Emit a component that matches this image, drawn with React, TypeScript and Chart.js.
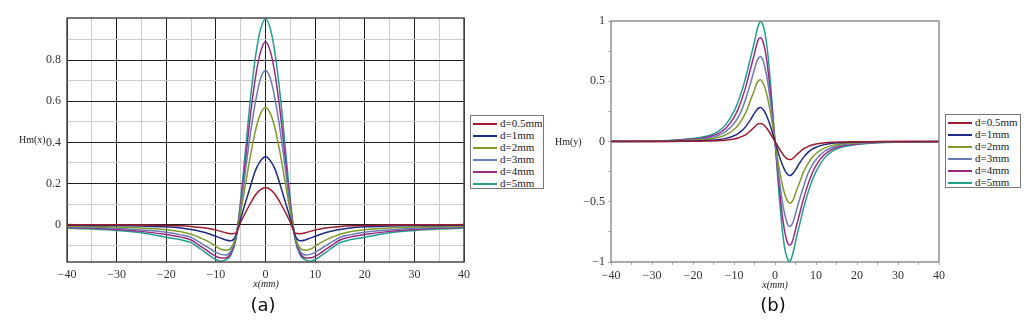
import React, { useEffect, useRef } from "react";
import { Chart, registerables } from "chart.js";

Chart.register(...registerables);

// ---------- data ----------
const seriesLabels = ["d=0.5mm", "d=1mm", "d=2mm", "d=3mm", "d=4mm", "d=5mm"];
const seriesColors = ["#9b1b30", "#1f2b85", "#7f9c2a", "#6b7bb4", "#9a2a88", "#22a08c"];

// (a) Hm(x)
const xA = [-40, -35, -30, -25, -20, -17, -15, -13, -12, -11, -10, -9, -8, -7, -6, -5, -4, -3, -2, -1, 0,
  1, 2, 3, 4, 5, 6, 7, 8, 9, 10, 11, 12, 13, 15, 17, 20, 25, 30, 35, 40];
const hxD05 = [0, -0.001, -0.001, -0.002, -0.004, -0.006, -0.009, -0.014, -0.017, -0.021, -0.026, -0.033, -0.04, -0.044, -0.042, 0.012, 0.06, 0.105, 0.145, 0.17, 0.18,
  0.17, 0.145, 0.105, 0.06, 0.012, -0.042, -0.044, -0.04, -0.033, -0.026, -0.021, -0.017, -0.014, -0.009, -0.006, -0.004, -0.002, -0.001, -0.001, 0];
const hxD1 = [-0.003, -0.004, -0.005, -0.007, -0.011, -0.017, -0.024, -0.034, -0.04, -0.048, -0.057, -0.066, -0.075, -0.079, -0.055, 0.03, 0.11, 0.19, 0.265, 0.31, 0.33,
  0.31, 0.265, 0.19, 0.11, 0.03, -0.055, -0.079, -0.075, -0.066, -0.057, -0.048, -0.04, -0.034, -0.024, -0.017, -0.011, -0.007, -0.005, -0.004, -0.003];
const hxD2 = [-0.008, -0.009, -0.012, -0.016, -0.025, -0.035, -0.047, -0.066, -0.077, -0.09, -0.105, -0.12, -0.125, -0.115, -0.06, 0.06, 0.2, 0.34, 0.46, 0.54, 0.57,
  0.54, 0.46, 0.34, 0.2, 0.06, -0.06, -0.115, -0.125, -0.12, -0.105, -0.09, -0.077, -0.066, -0.047, -0.035, -0.025, -0.016, -0.012, -0.009, -0.008];
const hxD3 = [-0.011, -0.014, -0.018, -0.026, -0.037, -0.05, -0.062, -0.09, -0.105, -0.12, -0.135, -0.145, -0.148, -0.13, -0.065, 0.08, 0.27, 0.45, 0.6, 0.71, 0.75,
  0.71, 0.6, 0.45, 0.27, 0.08, -0.065, -0.13, -0.148, -0.145, -0.135, -0.12, -0.105, -0.09, -0.062, -0.05, -0.037, -0.026, -0.018, -0.014, -0.011];
const hxD4 = [-0.014, -0.018, -0.024, -0.033, -0.048, -0.061, -0.075, -0.107, -0.123, -0.14, -0.154, -0.163, -0.162, -0.14, -0.07, 0.1, 0.32, 0.54, 0.72, 0.84, 0.89,
  0.84, 0.72, 0.54, 0.32, 0.1, -0.07, -0.14, -0.162, -0.163, -0.154, -0.14, -0.123, -0.107, -0.075, -0.061, -0.048, -0.033, -0.024, -0.018, -0.014];
const hxD5 = [-0.017, -0.022, -0.029, -0.04, -0.062, -0.074, -0.088, -0.12, -0.138, -0.155, -0.17, -0.178, -0.172, -0.15, -0.075, 0.12, 0.37, 0.62, 0.82, 0.95, 1.0,
  0.95, 0.82, 0.62, 0.37, 0.12, -0.075, -0.15, -0.172, -0.178, -0.17, -0.155, -0.138, -0.12, -0.088, -0.074, -0.062, -0.04, -0.029, -0.022, -0.017];
const seriesA = [hxD05, hxD1, hxD2, hxD3, hxD4, hxD5];
const xTicksA = [-40, -35, -30, -25, -20, -15, -10, -5, 0, 5, 10, 15, 20, 25, 30, 35, 40];
const yTicksA = [-0.1, 0, 0.1, 0.2, 0.3, 0.4, 0.5, 0.6, 0.7, 0.8, 0.9];

// (b) Hm(y)
const xB = [-40, -35, -30, -25, -20, -18, -16, -14, -12, -10, -9, -8, -7, -6, -5, -4.5, -4, -3.5, -3, -2.5, -2, -1.5, -1, -0.5, 0,
  0.5, 1, 1.5, 2, 2.5, 3, 3.5, 4, 4.5, 5, 6, 7, 8, 9, 10, 12, 14, 16, 18, 20, 25, 30, 35, 40];
const hyD05 = [0, 0, 0, 0.001, 0.002, 0.003, 0.004, 0.006, 0.011, 0.02, 0.029, 0.042, 0.06, 0.088, 0.12, 0.137, 0.148, 0.15, 0.145, 0.13, 0.11, 0.085, 0.058, 0.029, 0,
  -0.029, -0.058, -0.085, -0.11, -0.13, -0.145, -0.15, -0.148, -0.137, -0.12, -0.088, -0.06, -0.042, -0.029, -0.02, -0.011, -0.006, -0.004, -0.003, -0.002, -0.001, 0, 0, 0];
const hyD1 = [0, 0.001, 0.001, 0.002, 0.005, 0.007, 0.01, 0.015, 0.026, 0.048, 0.066, 0.092, 0.13, 0.18, 0.235, 0.26, 0.278, 0.282, 0.27, 0.245, 0.21, 0.165, 0.115, 0.058, 0,
  -0.058, -0.115, -0.165, -0.21, -0.245, -0.27, -0.282, -0.278, -0.26, -0.235, -0.18, -0.13, -0.092, -0.066, -0.048, -0.026, -0.015, -0.01, -0.007, -0.005, -0.002, -0.001, -0.001, 0];
const hyD2 = [0.001, 0.001, 0.002, 0.004, 0.01, 0.014, 0.02, 0.032, 0.055, 0.1, 0.135, 0.185, 0.25, 0.34, 0.43, 0.48, 0.505, 0.512, 0.49, 0.45, 0.39, 0.31, 0.22, 0.11, 0,
  -0.11, -0.22, -0.31, -0.39, -0.45, -0.49, -0.512, -0.505, -0.48, -0.43, -0.34, -0.25, -0.185, -0.135, -0.1, -0.055, -0.032, -0.02, -0.014, -0.01, -0.004, -0.002, -0.001, -0.001];
const hyD3 = [0.001, 0.002, 0.003, 0.006, 0.015, 0.021, 0.03, 0.048, 0.083, 0.15, 0.2, 0.27, 0.37, 0.48, 0.6, 0.66, 0.695, 0.705, 0.68, 0.62, 0.54, 0.43, 0.3, 0.15, 0,
  -0.15, -0.3, -0.43, -0.54, -0.62, -0.68, -0.705, -0.695, -0.66, -0.6, -0.48, -0.37, -0.27, -0.2, -0.15, -0.083, -0.048, -0.03, -0.021, -0.015, -0.006, -0.003, -0.002, -0.001];
const hyD4 = [0.002, 0.003, 0.004, 0.008, 0.02, 0.028, 0.04, 0.063, 0.11, 0.2, 0.27, 0.36, 0.47, 0.6, 0.73, 0.8, 0.85, 0.862, 0.835, 0.77, 0.67, 0.53, 0.37, 0.19, 0,
  -0.19, -0.37, -0.53, -0.67, -0.77, -0.835, -0.862, -0.85, -0.8, -0.73, -0.6, -0.47, -0.36, -0.27, -0.2, -0.11, -0.063, -0.04, -0.028, -0.02, -0.008, -0.004, -0.003, -0.002];
const hyD5 = [0.002, 0.003, 0.005, 0.01, 0.025, 0.035, 0.05, 0.08, 0.14, 0.25, 0.33, 0.43, 0.55, 0.69, 0.83, 0.91, 0.97, 0.998, 0.97, 0.91, 0.8, 0.64, 0.44, 0.22, 0,
  -0.22, -0.44, -0.64, -0.8, -0.91, -0.97, -0.998, -0.97, -0.91, -0.83, -0.69, -0.55, -0.43, -0.33, -0.25, -0.14, -0.08, -0.05, -0.035, -0.025, -0.01, -0.005, -0.003, -0.002];
const seriesB = [hyD05, hyD1, hyD2, hyD3, hyD4, hyD5];
const xTicksB = [-40, -35, -30, -25, -20, -15, -10, -5, 0, 5, 10, 15, 20, 25, 30, 35, 40];
const yTicksB = [-1, -0.75, -0.5, -0.25, 0, 0.25, 0.5, 0.75, 1];

// ---------- helpers ----------
const isMult = (v: number, step: number) => Math.abs(v / step - Math.round(v / step)) < 1e-6;
const fmt = (v: number) => {
  const s = String(Math.round(Math.abs(v) * 1000) / 1000);
  return v < 0 ? "\u2212" + s : s;
};
const SERIF = "'Liberation Serif', 'Times New Roman', serif";

const framePlugin = (color: string, width: number) => ({
  id: "frame",
  afterDatasetsDraw(chart: any) {
    const { ctx, chartArea: a } = chart;
    ctx.save();
    ctx.strokeStyle = color;
    ctx.lineWidth = width;
    ctx.strokeRect(a.left, a.top, a.right - a.left, a.bottom - a.top);
    ctx.restore();
  },
});

function buildDatasets(xs: number[], series: number[][]) {
  return series.map((vals, i) => ({
    label: seriesLabels[i],
    data: xs.map((x, j) => ({ x, y: vals[j] })),
    borderColor: seriesColors[i],
    backgroundColor: seriesColors[i],
    borderWidth: 1.5,
    pointRadius: 0,
    cubicInterpolationMode: "monotone" as const,
    fill: false,
  }));
}

function ChartA() {
  const ref = useRef<HTMLCanvasElement>(null);
  useEffect(() => {
    const chart = new Chart(ref.current!, {
      type: "line",
      data: { datasets: buildDatasets(xA, seriesA) as any },
      options: {
        animation: false,
        responsive: false,
        events: [],
        layout: { padding: { left: 0, top: 18, right: 12, bottom: 0 } },
        plugins: { legend: { display: false }, tooltip: { enabled: false } },
        scales: {
          x: {
            type: "linear",
            min: -40,
            max: 40,
            afterBuildTicks: (s: any) => { s.ticks = xTicksA.map((v) => ({ value: v })); },
            afterFit: (s: any) => { s.height = 38; },
            ticks: {
              autoSkip: false,
              maxRotation: 0,
              padding: 6,
              color: "#333",
              font: { family: SERIF, size: 12 },
              callback: (v: any) => (isMult(Number(v), 10) ? fmt(Number(v)) : ""),
            },
            grid: {
              drawTicks: false,
              lineWidth: 1,
              color: (c: any) => (isMult(c.tick.value, 10) ? "#1e1e1e" : "#cccccc"),
            },
            border: { display: false },
          },
          y: {
            type: "linear",
            min: -0.182,
            max: 1.005,
            afterBuildTicks: (s: any) => { s.ticks = yTicksA.map((v) => ({ value: v })); },
            afterFit: (s: any) => { s.width = 67; },
            ticks: {
              autoSkip: false,
              padding: 6,
              color: "#333",
              font: { family: SERIF, size: 12 },
              callback: (v: any) => (isMult(Number(v), 0.2) ? fmt(Number(v)) : ""),
            },
            grid: {
              drawTicks: false,
              lineWidth: 1,
              color: (c: any) => (isMult(c.tick.value, 0.2) ? "#1e1e1e" : "#cccccc"),
            },
            border: { display: false },
          },
        },
      },
      plugins: [framePlugin("#4a4a4a", 1.5)],
    });
    return () => chart.destroy();
  }, []);
  return <canvas ref={ref} width={476} height={300} style={{ position: "absolute", left: 0, top: 0, width: 476, height: 300 }} />;
}

function ChartB() {
  const ref = useRef<HTMLCanvasElement>(null);
  useEffect(() => {
    const chart = new Chart(ref.current!, {
      type: "line",
      data: { datasets: buildDatasets(xB, seriesB) as any },
      options: {
        animation: false,
        responsive: false,
        events: [],
        layout: { padding: { left: 0, top: 21, right: 12, bottom: 0 } },
        plugins: { legend: { display: false }, tooltip: { enabled: false } },
        scales: {
          x: {
            type: "linear",
            min: -40,
            max: 40,
            afterBuildTicks: (s: any) => { s.ticks = xTicksB.map((v) => ({ value: v })); },
            afterFit: (s: any) => { s.height = 38; },
            ticks: {
              autoSkip: false,
              maxRotation: 0,
              padding: 4,
              color: "#333",
              font: { family: SERIF, size: 12 },
              callback: (v: any) => (isMult(Number(v), 10) ? fmt(Number(v)) : ""),
            },
            grid: {
              drawOnChartArea: false,
              drawTicks: true,
              tickLength: 3,
              color: "#b0b0b0",
            },
            border: { display: false },
          },
          y: {
            type: "linear",
            min: -1,
            max: 1,
            afterBuildTicks: (s: any) => { s.ticks = yTicksB.map((v) => ({ value: v })); },
            afterFit: (s: any) => { s.width = 81; },
            ticks: {
              autoSkip: false,
              padding: 3,
              color: "#333",
              font: { family: SERIF, size: 12 },
              callback: (v: any) => (isMult(Number(v), 0.5) ? fmt(Number(v)) : ""),
            },
            grid: {
              drawOnChartArea: false,
              drawTicks: true,
              tickLength: 3,
              color: "#b0b0b0",
            },
            border: { display: false },
          },
        },
      },
      plugins: [framePlugin("#808080", 1.3)],
    });
    return () => chart.destroy();
  }, []);
  return <canvas ref={ref} width={421} height={300} style={{ position: "absolute", left: 530, top: 0, width: 421, height: 300 }} />;
}

function Legend({ left, top, width }: { left: number; top: number; width: number }) {
  return (
    <div
      style={{
        position: "absolute",
        left,
        top,
        width,
        height: 74,
        boxSizing: "border-box",
        border: "1px solid #777",
        background: "#fff",
        paddingTop: 1,
      }}
    >
      {seriesLabels.map((lab, i) => (
        <div key={lab} style={{ position: "relative", height: 12 }}>
          <span style={{ position: "absolute", left: 2, top: 6, width: 24, height: 1, borderTop: `1px solid ${seriesColors[i]}`, background: seriesColors[i] }} />
          <span style={{ position: "absolute", left: 29, top: 0, fontFamily: SERIF, fontSize: 11, color: "#222", lineHeight: "12px", whiteSpace: "nowrap" }}>{lab}</span>
        </div>
      ))}
    </div>
  );
}

const textStyle = (left: number, top: number, extra: any = {}) => ({
  position: "absolute" as const,
  left,
  top,
  fontFamily: SERIF,
  fontSize: 10,
  lineHeight: "12px",
  color: "#222",
  whiteSpace: "nowrap" as const,
  ...extra,
});

export default function App() {
  return (
    <div style={{ position: "absolute", left: 0, top: 0, width: 1035, height: 330, background: "#fff", overflow: "hidden" }}>
      <ChartA />
      <ChartB />
      <Legend left={470} top={115} width={74} />
      <Legend left={945} top={114} width={76} />
      <div style={textStyle(19, 134)}>Hm(x)</div>
      <div style={textStyle(555, 136)}>Hm(y)</div>
      <div style={textStyle(236, 278, { width: 60, textAlign: "center", fontStyle: "italic" })}>x(mm)</div>
      <div style={textStyle(745, 279, { width: 60, textAlign: "center", fontStyle: "italic" })}>x(mm)</div>
      <div style={textStyle(233, 294, { width: 60, textAlign: "center", fontFamily: "'DejaVu Sans', sans-serif", fontSize: 18, lineHeight: "22px", color: "#111" })}>(a)</div>
      <div style={textStyle(743, 294, { width: 60, textAlign: "center", fontFamily: "'DejaVu Sans', sans-serif", fontSize: 18, lineHeight: "22px", color: "#111" })}>(b)</div>
    </div>
  );
}
